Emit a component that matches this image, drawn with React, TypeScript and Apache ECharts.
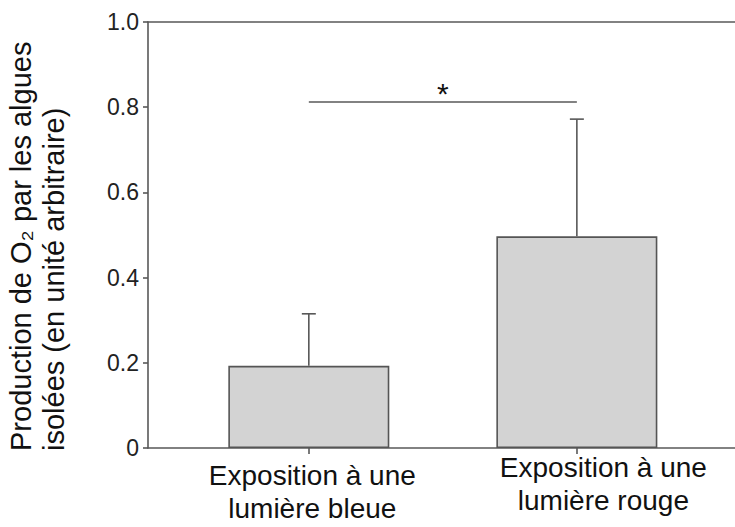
import React, { useEffect, useRef } from "react";
import * as echarts from "echarts";

const categories = ["Exposition à une\nlumière bleue", "Exposition à une\nlumière rouge"];
const means = [0.193, 0.497];
const errorTops = [0.315, 0.772];
const significanceLevel = 0.812;
const significanceLabel = "*";
const yMin = 0;
const yMax = 1.0;
const yStep = 0.2;
const yTitle = "Production de O₂ par les algues\nisolées (en unité arbitraire)";

const AXIS = "#585858";
const FONT = "Liberation Sans, Arial, sans-serif";

export default function App() {
  const ref = useRef<HTMLDivElement>(null);
  useEffect(() => {
    if (!ref.current) return;
    const chart = echarts.init(ref.current, undefined, { renderer: "svg" });
    const idx = categories.map((_, i) => i);
    const xMin = -0.6;
    const xMax = 1.59;
    chart.setOption({
      animation: false,
      backgroundColor: "#ffffff",
      textStyle: { fontFamily: FONT },
      grid: { left: 148, right: 0, top: 22, bottom: 79 },
      xAxis: [
        {
          type: "value",
          min: xMin,
          max: xMax,
          position: "bottom",
          axisLine: { show: true, onZero: false, lineStyle: { color: AXIS, width: 1.6 } },
          axisTick: { show: true, length: 6, customValues: idx, lineStyle: { color: AXIS, width: 1.6 } },
          splitLine: { show: false },
          axisLabel: {
            show: true,
            customValues: idx,
            margin: 3,
            align: "center",
            formatter: (v: number) => {
              const i = Math.round(v);
              const lines = (categories[i] || "").split("\n");
              const pre = i === 0 ? "{g| }\n" : "";
              return pre + lines.map((l) => `{s${i}| }{t|${l}}`).join("\n");
            },
            rich: {
              g: { fontSize: 4, lineHeight: 8 },
              s0: { width: 7, fontSize: 28, lineHeight: 33 },
              s1: { width: 53, fontSize: 28, lineHeight: 33 },
              t: { fontSize: 28, lineHeight: 33, color: "#111", fontFamily: FONT },
            },
          },
        },
        {
          type: "value",
          min: xMin,
          max: xMax,
          position: "top",
          axisLine: { show: true, onZero: false, lineStyle: { color: AXIS, width: 1.6 } },
          axisTick: { show: false },
          axisLabel: { show: false },
          splitLine: { show: false },
        },
      ],
      yAxis: {
        type: "value",
        min: yMin,
        max: yMax,
        interval: yStep,
        position: "left",
        axisLine: { show: true, onZero: false, lineStyle: { color: AXIS, width: 1.6 } },
        axisTick: { show: true, length: 5, lineStyle: { color: AXIS, width: 1.6 } },
        splitLine: { show: false },
        axisLabel: {
          fontSize: 23,
          color: "#222",
          margin: 9,
          formatter: (v: number) => (v === 0 ? "0" : v.toFixed(1)),
        },
      },
      graphic: [
        {
          type: "text",
          x: 4,
          y: 451,
          rotation: Math.PI / 2,
          style: {
            text: yTitle,
            fontSize: 29,
            fontFamily: FONT,
            fill: "#111",
            textAlign: "left",
            textVerticalAlign: "top",
            lineHeight: 33,
          },
        },
      ],
      series: [
        {
          type: "bar",
          xAxisIndex: 0,
          data: means.map((m, i) => [i, m]),
          barWidth: 161,
          itemStyle: { color: "#d3d3d3", borderColor: "#555", borderWidth: 1.6 },
          z: 2,
          markLine: {
            silent: true,
            symbol: ["none", "none"],
            lineStyle: { color: AXIS, width: 1.6, type: "solid" },
            label: {
              show: true,
              position: "middle",
              formatter: significanceLabel,
              fontSize: 30,
              color: "#111",
              distance: -6,
            },
            data: [
              [
                { coord: [0, significanceLevel] },
                { coord: [1, significanceLevel] },
              ],
            ],
          },
        },
        {
          type: "custom",
          xAxisIndex: 0,
          data: means.map((m, i) => [i, m, errorTops[i]]),
          encode: { x: 0, y: [1, 2] },
          z: 3,
          renderItem: (params: any, api: any) => {
            const base = api.coord([api.value(0), api.value(1)]);
            const top = api.coord([api.value(0), api.value(2)]);
            const hw = 7;
            const st = { stroke: AXIS, lineWidth: 1.6 };
            return {
              type: "group",
              children: [
                { type: "line", shape: { x1: base[0], y1: base[1], x2: top[0], y2: top[1] }, style: st },
                { type: "line", shape: { x1: top[0] - hw, y1: top[1], x2: top[0] + hw, y2: top[1] }, style: st },
              ],
            };
          },
        },
      ],
    });
    return () => chart.dispose();
  }, []);
  return (
    <div
      ref={ref}
      style={{ position: "fixed", left: 0, top: 0, width: 735, height: 527, background: "#fff" }}
    />
  );
}
